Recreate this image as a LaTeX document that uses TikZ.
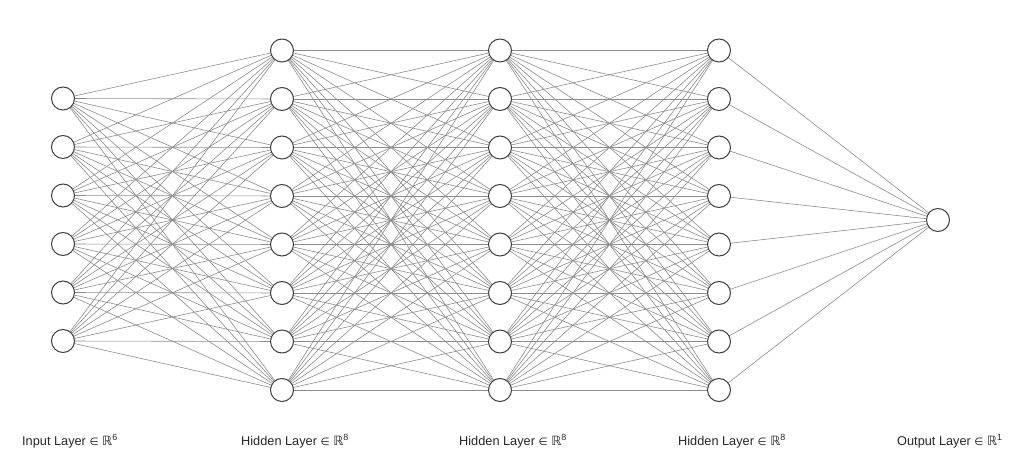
\documentclass[tikz,border=0pt]{standalone}
\usepackage{fontspec}
\setmainfont{Liberation Sans}
\newfontfamily\symfont{DejaVu Sans}
\newcommand{\elemof}{{\symfont\fontsize{10.5}{12}\selectfont ∈}}
\tikzset{
  neuron/.style={circle, draw=black!75, line width=1bp, fill=white, minimum size=23bp, inner sep=0pt},
  edge/.style={draw=black!45, line width=0.6bp},
  layerlabel/.style={anchor=base west, inner sep=0pt, font=\fontsize{12.8}{14}\selectfont, text=black!85}
}
\begin{document}
\begin{tikzpicture}[x=1bp,y=-1bp]
\useasboundingbox (0,0) rectangle (1023,474);
% nodes
\foreach \i in {1,...,6} \path ({63}, {98.5+48.5*(\i-1)}) coordinate (a\i);
\foreach \i in {1,...,8} {
  \path ({282}, {50.5+48.5*(\i-1)}) coordinate (b\i);
  \path ({500}, {50.5+48.5*(\i-1)}) coordinate (c\i);
  \path ({719}, {50.5+48.5*(\i-1)}) coordinate (d\i);
}
\path (938,220) coordinate (e1);
% edges
\foreach \i in {1,...,6} \foreach \j in {1,...,8} \draw[edge] (a\i) -- (b\j);
\foreach \i in {1,...,8} \foreach \j in {1,...,8} {
  \draw[edge] (b\i) -- (c\j);
  \draw[edge] (c\i) -- (d\j);
}
\foreach \i in {1,...,8} \draw[edge] (d\i) -- (e1);
% neurons
\foreach \i in {1,...,6} \node[neuron] (na\i) at (a\i) {};
\foreach \i in {1,...,8} {
  \node[neuron] (nb\i) at (b\i) {};
  \node[neuron] (nc\i) at (c\i) {};
  \node[neuron] (nd\i) at (d\i) {};
}
\node[neuron] (ne1) at (e1) {};
% labels
\node[layerlabel] (l1) at (22,445) {Input Layer \elemof{} {\symfont ℝ}\textsuperscript{6}};
\node[layerlabel] (l2) at (241,445) {Hidden Layer \elemof{} {\symfont ℝ}\textsuperscript{8}};
\node[layerlabel] (l3) at (459,445) {Hidden Layer \elemof{} {\symfont ℝ}\textsuperscript{8}};
\node[layerlabel] (l4) at (678,445) {Hidden Layer \elemof{} {\symfont ℝ}\textsuperscript{8}};
\node[layerlabel] (l5) at (897,445) {Output Layer \elemof{} {\symfont ℝ}\textsuperscript{1}};
\end{tikzpicture}
\end{document}
